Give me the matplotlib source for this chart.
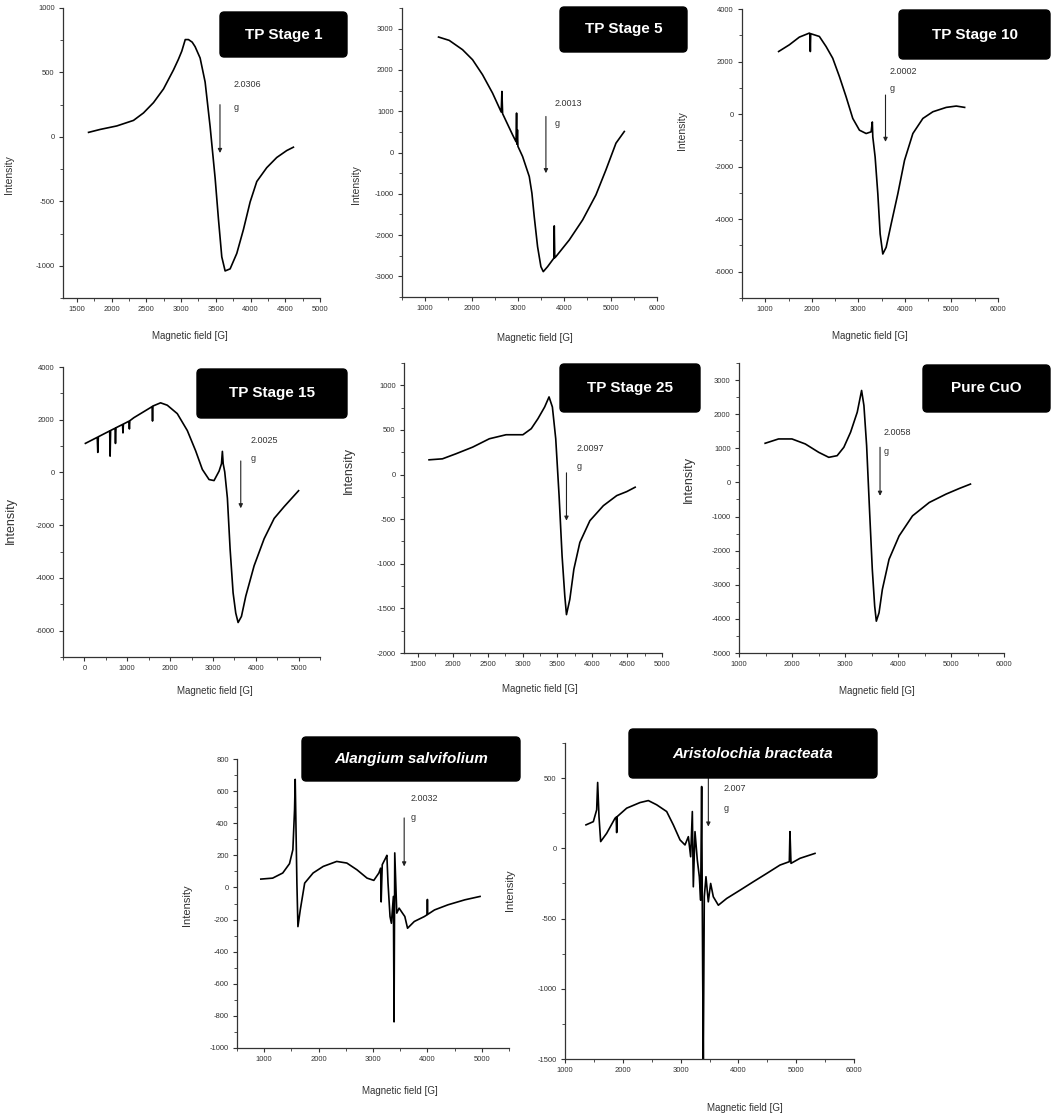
import matplotlib
matplotlib.use("Agg")
import matplotlib.pyplot as plt
from matplotlib.patches import FancyBboxPatch
from matplotlib.ticker import MultipleLocator, FormatStrFormatter

plt.rcParams['font.family'] = ['Liberation Sans', 'DejaVu Sans']
plt.rcParams['axes.unicode_minus'] = False

# ---------------- data ----------------
titles = ["TP Stage 1", "TP Stage 5", "TP Stage 10", "TP Stage 15",
          "TP Stage 25", "Pure CuO", "Alangium salvifolium", "Aristolochia bracteata"]
g_values = ["2.0306", "2.0013", "2.0002", "2.0025", "2.0097", "2.0058", "2.0032", "2.007"]

s1_field = [1668, 1836, 2075, 2315, 2459, 2603, 2747, 2890, 2960, 3010, 3060, 3106, 3160, 3202, 3274, 3346,
            3418, 3490, 3538, 3586, 3634, 3706, 3802, 3898, 3994, 4090, 4233, 4377, 4521, 4617]
s1_int = [35, 58, 85, 128, 186, 266, 372, 519, 600, 665, 755, 755, 735, 700, 612, 426,
          80, -319, -638, -931, -1040, -1024, -904, -718, -505, -346, -239, -160, -106, -80]

s5_field = [1288, 1518, 1806, 2022, 2237, 2453, 2640, 2655, 2670, 2885, 2960, 2971, 2980, 2990, 3000,
            3101, 3245, 3302, 3352, 3424, 3496, 3547, 3640, 3775, 3784, 3795, 3820, 4108, 4396,
            4683, 4899, 5115, 5295]
s5_int = [2797, 2716, 2490, 2247, 1884, 1439, 980, 1479, 940, 428, 260, 954, 200, 550, 150,
          -97, -582, -986, -1552, -2280, -2765, -2886, -2765, -2560, -1778, -2550, -2522, -2118, -1633,
          -1027, -420, 226, 509]

s10_field = [1287, 1517, 1732, 1947, 1960, 1968, 1976, 2162, 2306, 2449, 2593, 2736, 2880, 3023,
             3167, 3274, 3300, 3310, 3360, 3418, 3468, 3525, 3597, 3705, 3848, 3992, 4171, 4386,
             4601, 4888, 5103, 5283]
s10_int = [2382, 2637, 2930, 3083, 3070, 2382, 3060, 2955, 2573, 2127, 1427, 662, -166, -612,
           -739, -675, -300, -866, -1631, -3032, -4561, -5325, -5070, -4179, -3032, -1758, -739, -166,
           89, 255, 306, 255]

s15_field = [23, 300, 312, 325, 590, 600, 612, 715, 725, 737, 764, 890, 900, 910, 1040, 1050, 1060,
             1154, 1544, 1580, 1590, 1600, 1778, 1934, 2168, 2402, 2597, 2753, 2910, 3026, 3144,
             3200, 3221, 3240, 3276, 3338, 3401, 3471, 3533, 3588, 3666, 3767, 3962, 4196, 4430,
             4664, 5000]
s15_int = [1103, 1333, 760, 1354, 1575, 620, 1593, 1677, 1100, 1694, 1718, 1820, 1500, 1836, 1945,
           1650, 1962, 2077, 2461, 2500, 1950, 2520, 2641, 2551, 2231, 1590, 820, 115, -269, -308, 51,
           330, 800, 330, 20, -974, -2897, -4564, -5333, -5692, -5461, -4692, -3538, -2513, -1743,
           -1295, -692]

s25_field = [1659, 1851, 2043, 2284, 2524, 2764, 3005, 3125, 3221, 3317, 3380, 3428, 3476, 3524,
             3567, 3606, 3630, 3678, 3736, 3822, 3966, 4159, 4351, 4495, 4615]
s25_int = [165, 176, 232, 307, 401, 446, 446, 514, 626, 757, 870, 757, 401, -236,
           -911, -1361, -1570, -1399, -1061, -761, -517, -349, -236, -191, -142]

cuo_field = [1493, 1746, 1999, 2251, 2504, 2694, 2852, 2978, 3105, 3231, 3313, 3357, 3408, 3465,
             3515, 3560, 3591, 3642, 3705, 3831, 4021, 4274, 4590, 4906, 5159, 5367]
cuo_int = [1147, 1274, 1274, 1127, 882, 735, 784, 1029, 1470, 2058, 2695, 2254, 1078, -882,
           -2548, -3626, -4067, -3822, -3136, -2254, -1568, -980, -588, -343, -176, -49]

als_field = [938, 1155, 1341, 1465, 1527, 1558, 1570, 1589, 1601, 1620, 1663, 1744, 1899, 2085,
             2333, 2519, 2705, 2891, 3015, 3108, 3140, 3150, 3170, 3232, 3255, 3276, 3313, 3338,
             3375, 3387, 3400, 3437, 3480, 3542, 3585, 3635, 3759, 3945, 3995, 4000, 4005, 4131,
             4379, 4689, 4968]
als_int = [52, 58, 90, 148, 235, 485, 673, 277, 27, -244, -140, 27, 90, 131,
           162, 152, 110, 58, 44, 90, 120, -90, 142, 183, 200, 27, -181, -223,
           -56, -837, 215, -160, -129, -160, -181, -254, -212, -181, -170, -75, -168, -140,
           -108, -77, -56]

arb_field = [1363, 1490, 1548, 1565, 1588, 1617, 1721, 1865, 1885, 1894, 1903, 2067, 2298, 2442,
             2586, 2759, 2874, 2990, 3076, 3134, 3174, 3203, 3220, 3249, 3289, 3324, 3347, 3364,
             3382, 3393, 3410, 3439, 3479, 3520, 3566, 3653, 3797, 4028, 4258, 4489, 4720, 4881,
             4892, 4910, 5066, 5325]
arb_int = [167, 190, 274, 469, 226, 48, 107, 214, 222, 112, 226, 286, 326, 340,
           310, 262, 167, 60, 24, 83, -60, 262, -274, 119, -83, -202, -369, 440,
           -893, -1500, -345, -202, -381, -250, -345, -405, -357, -298, -238, -179, -119, -95,
           119, -107, -71, -36]

fields = [s1_field, s5_field, s10_field, s15_field, s25_field, cuo_field, als_field, arb_field]
intens = [s1_int, s5_int, s10_int, s15_int, s25_int, cuo_int, als_int, arb_int]

# arrow (x, y_top, y_bottom) and g-text anchors (x, y of value, y of "g")
arrows = [(3560, 250, -125), (3604, 873, -501), (3583, 726, -1057), (3650, 436, -1359),
          (3630, 19, -517), (3661, 1029, -392), (3573, 433, 131), (3480, 500, 155)]
gtexts = [(3754, 404, 226), (3784, 1196, 711), (3669, 1618, 981), (3869, 1205, 525),
          (3774, 289, 90), (3737, 1470, 902), (3697, 552, 433), (3739, 424, 286)]

# ---------------- layout ----------------
W, H = 1052, 1117
fig = plt.figure(figsize=(W / 100, H / 100), dpi=100)

# pixel rectangles (left, right, top, bottom)
rects = [(63, 320, 8, 298), (402, 657, 8, 297), (742, 998, 9, 298),
         (63, 320, 367, 657), (404, 662, 363, 653), (739, 1004, 363, 653),
         (237, 509, 759, 1048), (565, 854, 743, 1059)]
xlims = [(1300, 5000), (500, 6000), (500, 6000), (-500, 5500), (1300, 5000), (1000, 6000),
         (500, 5500), (1000, 6000)]
ylims = [(-1250, 1000), (-3500, 3500), (-7000, 4000), (-7000, 4000), (-2000, 1250),
         (-5000, 3500), (-1000, 800), (-1500, 750)]
xmaj = [500, 1000, 1000, 1000, 500, 1000, 1000, 1000]
ymaj = [500, 1000, 2000, 2000, 500, 1000, 200, 500]
xlabel_pos = [(0.494, -0.115), (0.52, -0.125), (0.5, -0.115), (0.59, -0.10), (0.527, -0.108),
              (0.52, -0.115), (0.6, -0.13), (0.623, -0.14)]
ylabel_pos = [(-0.19, 0.424), (-0.16, 0.388), (-0.215, 0.58), (-0.18, 0.472), (-0.19, 0.631),
              (-0.166, 0.597), (-0.165, 0.495), (-0.173, 0.535)]
ylabel_size = [7.5, 7.5, 7.5, 9, 9, 9, 8, 8]
boxes = [(220, 347, 12, 57), (560, 687, 7, 52), (899, 1050, 10, 59), (197, 347, 369, 418),
         (560, 700, 364, 412), (923, 1050, 365, 412), (302, 520, 737, 781), (629, 877, 729, 778)]
italic = [False] * 6 + [True, True]

axis_col = '#333333'
for i in range(8):
    l, r, t, b = rects[i]
    ax = fig.add_axes([l / W, 1 - b / H, (r - l) / W, (b - t) / H])
    ax.plot(fields[i], intens[i], color='black', lw=1.2)
    ax.set_xlim(*xlims[i])
    ax.set_ylim(*ylims[i])
    for s in ['top', 'right']:
        ax.spines[s].set_visible(False)
    for s in ['left', 'bottom']:
        ax.spines[s].set_color(axis_col)
        ax.spines[s].set_linewidth(0.9)
    ax.xaxis.set_major_locator(MultipleLocator(xmaj[i]))
    ax.xaxis.set_minor_locator(MultipleLocator(xmaj[i] / 2))
    ax.yaxis.set_major_locator(MultipleLocator(ymaj[i]))
    ax.yaxis.set_minor_locator(MultipleLocator(ymaj[i] / 2))
    ax.xaxis.set_major_formatter(FormatStrFormatter('%d'))
    ax.yaxis.set_major_formatter(FormatStrFormatter('%d'))
    ax.tick_params(which='major', direction='out', length=3, width=0.8, color=axis_col,
                   labelsize=5.5, labelcolor='#333333', pad=3)
    ax.tick_params(which='minor', direction='out', length=2, width=0.6, color=axis_col)
    ax.set_xlabel('Magnetic field [G]', fontsize=7, color='#333333')
    ax.set_ylabel('Intensity', fontsize=ylabel_size[i], color='#333333')
    ax.xaxis.set_label_coords(*xlabel_pos[i])
    ax.yaxis.set_label_coords(*ylabel_pos[i])

    xa, y0, y1 = arrows[i]
    ax.annotate('', xy=(xa, y1), xytext=(xa, y0),
                arrowprops=dict(arrowstyle='-|>', color='#222222', lw=0.8,
                                mutation_scale=6, shrinkA=0, shrinkB=0))
    gx, gy1, gy2 = gtexts[i]
    ax.text(gx, gy1, g_values[i], fontsize=6.5, color='#333333', va='center', ha='left')
    ax.text(gx, gy2, 'g', fontsize=6.5, color='#333333', va='center', ha='left')

    bl, br, bt, bb = boxes[i]
    patch = FancyBboxPatch((bl / W, 1 - bb / H), (br - bl) / W, (bb - bt) / H,
                           boxstyle='round,pad=0,rounding_size=0.004',
                           transform=fig.transFigure, facecolor='black', edgecolor='black',
                           zorder=5)
    fig.patches.append(patch)
    fig.text((bl + br) / 2 / W, 1 - (bt + bb) / 2 / H, titles[i], color='white',
             fontsize=11, fontweight='bold', style='italic' if italic[i] else 'normal',
             ha='center', va='center', zorder=6)

fig.savefig('out.png', dpi=100, facecolor='white')
